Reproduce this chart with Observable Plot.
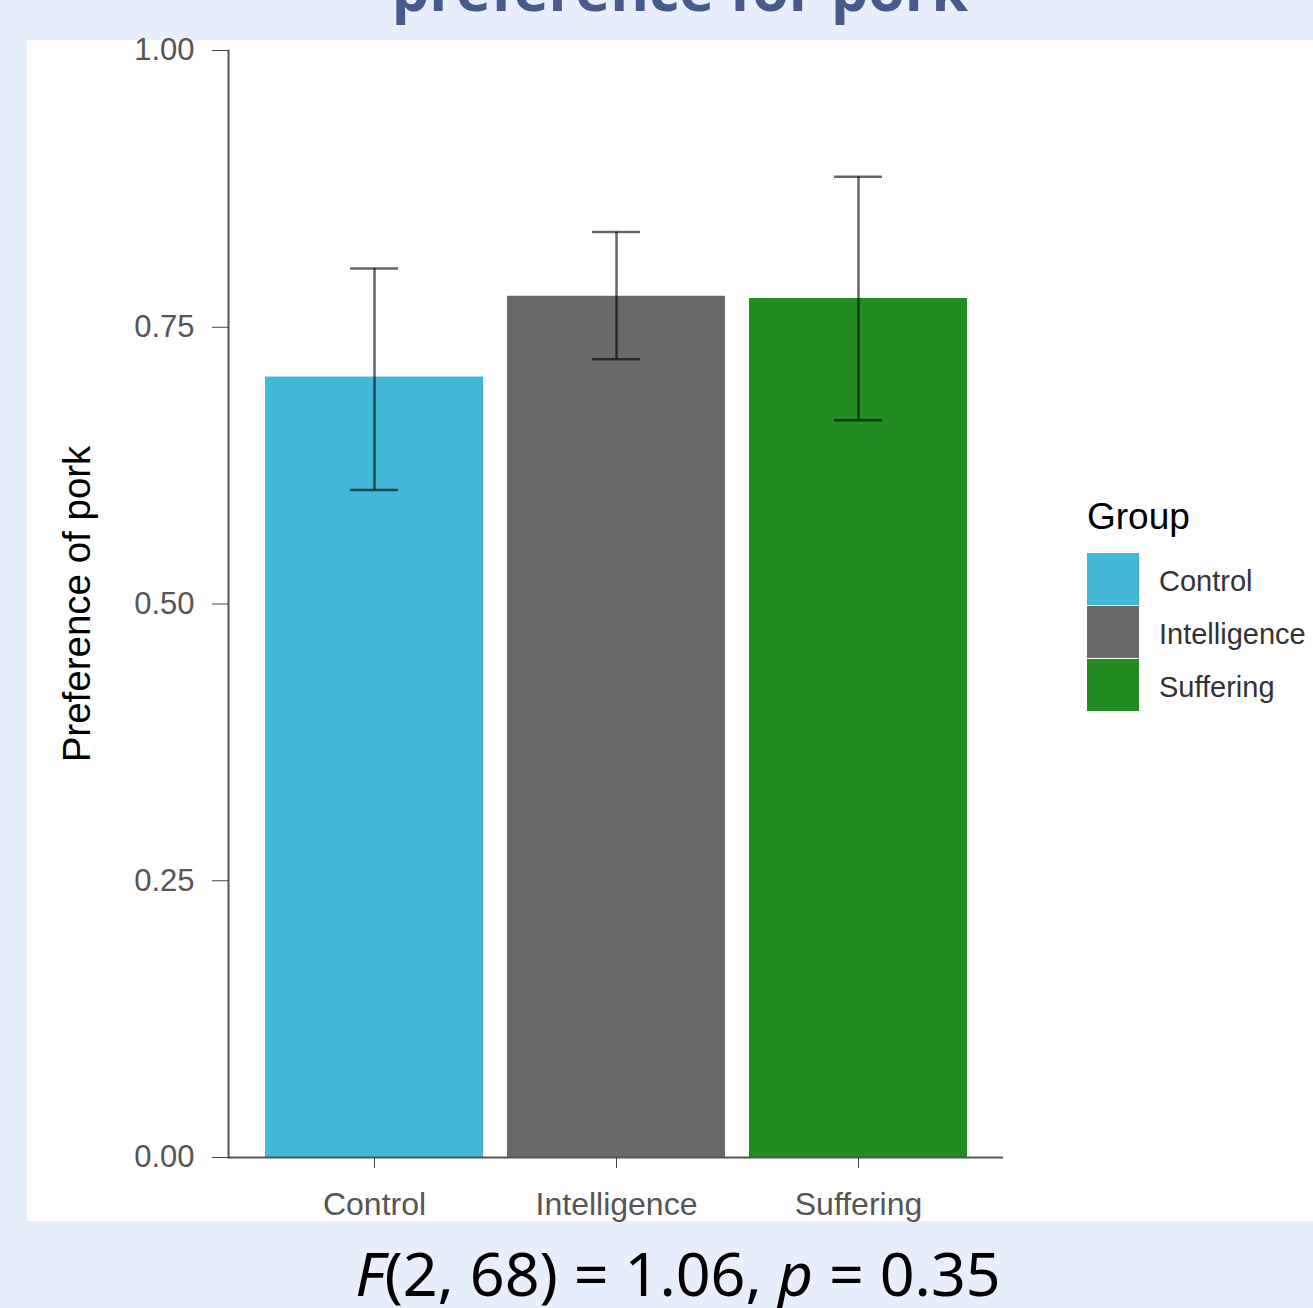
<!DOCTYPE html>
<html>
<head>
<meta charset="utf-8">
<script src="https://cdn.jsdelivr.net/npm/d3@7"></script>
<script src="https://cdn.jsdelivr.net/npm/@observablehq/plot@0.6"></script>
<style>
  html, body { margin: 0; padding: 0; }
  body { width: 1313px; height: 1308px; background: #e8effc; position: relative; overflow: hidden; font-family: "Liberation Sans", Arial, sans-serif; }
  #title { position: absolute; left: 0; width: 1360px; text-align: center; top: -52px; font-family: "Open Sans", sans-serif; font-weight: 700; font-size: 59px; line-height: 80px; color: #465a8c; white-space: nowrap; }
  #panel { position: absolute; left: 27px; top: 40px; width: 1286px; height: 1181px; background: #ffffff; }
  #chart { position: absolute; left: 27px; top: 0px; }
  #chart svg { display: block; overflow: visible; }
  #legend { position: absolute; left: 1087px; top: 482px; }
  #legend .ltitle { font-size: 37px; color: #000; line-height: 70px; }
  #legend .row { display: flex; align-items: center; height: 53px; }
  #legend .key { width: 52px; height: 52px; margin-right: 20px; }
  #legend .lab { font-size: 29px; color: #333; padding-top: 6px; }
  #caption { position: absolute; left: 0; width: 1356px; text-align: center; top: 1242px; font-family: "Noto Sans", sans-serif; font-size: 61px; line-height: 61px; color: #000; white-space: nowrap; }
</style>
</head>
<body>
<div id="title">preference for pork</div>
<div id="panel"></div>
<div id="chart"></div>
<div id="caption"><i>F</i>(2, 68) = 1.06, <i>p</i> = 0.35</div>
<script>
const groups = ["Control", "Intelligence", "Suffering"];
const means = [0.705, 0.778, 0.776];
const lower = [0.603, 0.721, 0.666];
const upper = [0.803, 0.836, 0.886];
const colors = ["#42b7d6", "#696969", "#228b22"];
const yTicks = [0, 0.25, 0.5, 0.75, 1];
const legendTitle = "Group";
const yLabel = "Preference of pork";

const data = groups.map((g, i) => ({group: g, mean: means[i], lo: lower[i], hi: upper[i]}));

const W = 1286, H = 1221;
const mL = 201, mR = 310, mT = 50, mB = 64;
const step = (W - mL - mR) / 3.2;
const bw = step * 0.9;
const capW = 48;

const chart = Plot.plot({
  width: W,
  height: H,
  marginLeft: mL,
  marginRight: mR,
  marginTop: mT,
  marginBottom: mB,
  style: {fontFamily: "'Liberation Sans', Arial, sans-serif", background: "transparent", overflow: "visible"},
  x: {domain: groups, paddingInner: 0.1, paddingOuter: 0.15, label: null},
  y: {domain: [0, 1], label: null},
  color: {domain: groups, range: colors},
  marks: [
    Plot.barY(data, {x: "group", y: "mean", fill: "group"}),
    Plot.ruleX(data, {x: "group", y1: "lo", y2: "hi", stroke: "#000", strokeOpacity: 0.6, strokeWidth: 2.5}),
    Plot.tickY(data, {x: "group", y: "lo", stroke: "#000", strokeOpacity: 0.6, strokeWidth: 2.5, insetLeft: (bw - capW) / 2, insetRight: (bw - capW) / 2}),
    Plot.tickY(data, {x: "group", y: "hi", stroke: "#000", strokeOpacity: 0.6, strokeWidth: 2.5, insetLeft: (bw - capW) / 2, insetRight: (bw - capW) / 2}),
    Plot.ruleY([0], {stroke: "#555", strokeWidth: 2}),
    Plot.frame({anchor: "left", stroke: "#555", strokeWidth: 2}),
    Plot.axisY({ticks: yTicks, tickFormat: d3.format(".2f"), tickSize: 16, tickPadding: 18, fontSize: 31, stroke: "#444", fill: "#555", label: null}),
    Plot.axisY({ticks: [], label: yLabel, labelArrow: "none", labelAnchor: "center", labelOffset: 166, fontSize: 38.5, fill: "#000"}),
    Plot.axisX({tickSize: 11, tickPadding: 24, fontSize: 32, stroke: "#444", fill: "#555", label: null})
  ]
});
document.getElementById("chart").appendChild(chart);

// legend
const legend = document.createElement("div");
legend.id = "legend";
const lt = document.createElement("div");
lt.className = "ltitle";
lt.textContent = legendTitle;
legend.appendChild(lt);
groups.forEach((g, i) => {
  const row = document.createElement("div");
  row.className = "row";
  const key = document.createElement("div");
  key.className = "key";
  key.style.background = colors[i];
  const lab = document.createElement("div");
  lab.className = "lab";
  lab.textContent = g;
  row.appendChild(key);
  row.appendChild(lab);
  legend.appendChild(row);
});
document.body.appendChild(legend);
</script>
</body>
</html>
